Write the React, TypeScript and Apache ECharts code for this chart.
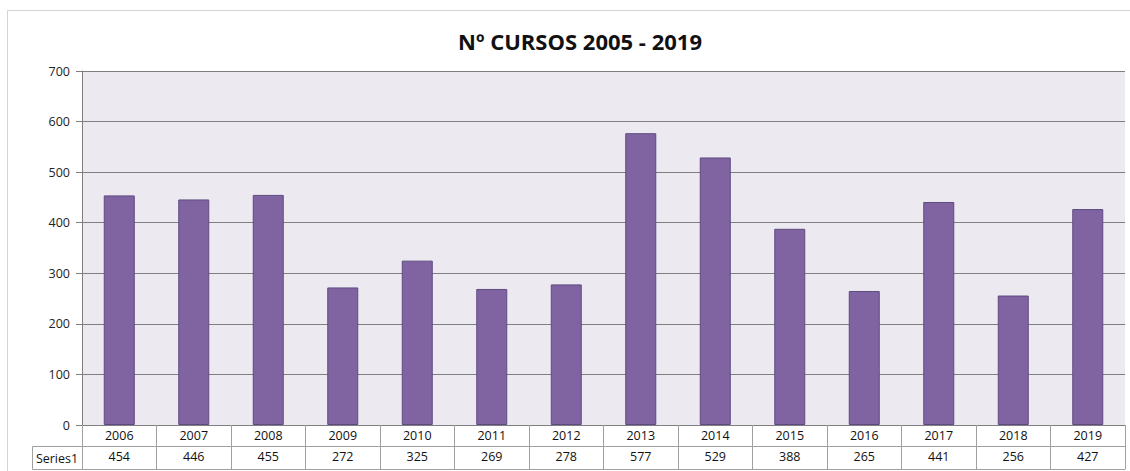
import React, { useEffect, useRef } from "react";
import * as echarts from "echarts";

const title = "Nº CURSOS 2005 - 2019";
const years = ["2006", "2007", "2008", "2009", "2010", "2011", "2012", "2013", "2014", "2015", "2016", "2017", "2018", "2019"];
const values = [454, 446, 455, 272, 325, 269, 278, 577, 529, 388, 265, 441, 256, 427];
const seriesName = "Series1";
const yTicks = { min: 0, max: 700, interval: 100 };

const FONT = "'Open Sans', 'Noto Sans', sans-serif";
const GRID_LINE = "#7f7f7f";
const TABLE_LINE = "#a0a0a0";
const LABEL_SIZE = 12.5;

export default function App() {
  const ref = useRef<HTMLDivElement>(null);
  useEffect(() => {
    document.body.style.margin = "0";
    const chart = echarts.init(ref.current!, null, { renderer: "svg" });
    chart.setOption({
      animation: false,
      backgroundColor: "#ffffff",
      title: {
        text: title,
        left: 575,
        top: 25,
        textAlign: "center",
        textStyle: { fontFamily: FONT, fontSize: 22, fontWeight: "bold", color: "#111" },
      },
      grid: {
        left: 82,
        right: 5,
        top: 71,
        bottom: 46,
        show: true,
        backgroundColor: "#ECEAF0",
        borderWidth: 0,
      },
      yAxis: {
        type: "value",
        min: yTicks.min,
        max: yTicks.max,
        interval: yTicks.interval,
        axisLine: { show: true, lineStyle: { color: GRID_LINE, width: 1 } },
        axisTick: { show: true, length: 6, lineStyle: { color: GRID_LINE } },
        axisLabel: { margin: 12, fontFamily: FONT, fontSize: LABEL_SIZE, color: "#222" },
        splitLine: { show: true, lineStyle: { color: GRID_LINE, width: 1.2 } },
      },
      xAxis: [
        {
          type: "category",
          data: years,
          position: "bottom",
          axisLine: { show: true, lineStyle: { color: GRID_LINE, width: 1.2 } },
          axisTick: { show: true, length: 21, alignWithLabel: false, lineStyle: { color: TABLE_LINE } },
          axisLabel: { margin: 4, fontFamily: FONT, fontSize: LABEL_SIZE, color: "#111" },
        },
        {
          type: "category",
          data: values.map((v) => String(v)),
          position: "bottom",
          offset: 21,
          axisLine: { show: true, lineStyle: { color: TABLE_LINE, width: 1 } },
          axisTick: { show: true, length: 23, lineStyle: { color: TABLE_LINE } },
          axisLabel: { margin: 4, fontFamily: FONT, fontSize: LABEL_SIZE, color: "#111" },
        },
        {
          type: "category",
          data: years.map(() => ""),
          position: "bottom",
          offset: 44,
          axisLine: { show: true, lineStyle: { color: TABLE_LINE, width: 1 } },
          axisTick: { show: false },
          axisLabel: { show: false },
        },
      ],
      graphic: [
        { type: "line", shape: { x1: 7.5, y1: 10.5, x2: 1130, y2: 10.5 }, style: { stroke: "#d4d4d4", lineWidth: 1 } },
        { type: "line", shape: { x1: 7.5, y1: 10.5, x2: 7.5, y2: 471 }, style: { stroke: "#d4d4d4", lineWidth: 1 } },
        { type: "line", shape: { x1: 32.5, y1: 446.5, x2: 82, y2: 446.5 }, style: { stroke: TABLE_LINE, lineWidth: 1 } },
        { type: "line", shape: { x1: 32.5, y1: 446.5, x2: 32.5, y2: 469.5 }, style: { stroke: TABLE_LINE, lineWidth: 1 } },
        { type: "line", shape: { x1: 32.5, y1: 469.5, x2: 82, y2: 469.5 }, style: { stroke: TABLE_LINE, lineWidth: 1 } },
        {
          type: "text",
          x: 57,
          y: 458,
          style: { text: seriesName, fontFamily: FONT, fontSize: LABEL_SIZE, fill: "#111", align: "center", verticalAlign: "middle" },
        },
      ],
      series: [
        {
          name: seriesName,
          type: "bar",
          xAxisIndex: 0,
          data: values,
          barWidth: 31,
          itemStyle: { color: "#8064A2", borderColor: "#5E4A80", borderWidth: 1 },
        },
      ],
    });
    return () => chart.dispose();
  }, []);
  return <div ref={ref} style={{ width: 1130, height: 471 }} />;
}
